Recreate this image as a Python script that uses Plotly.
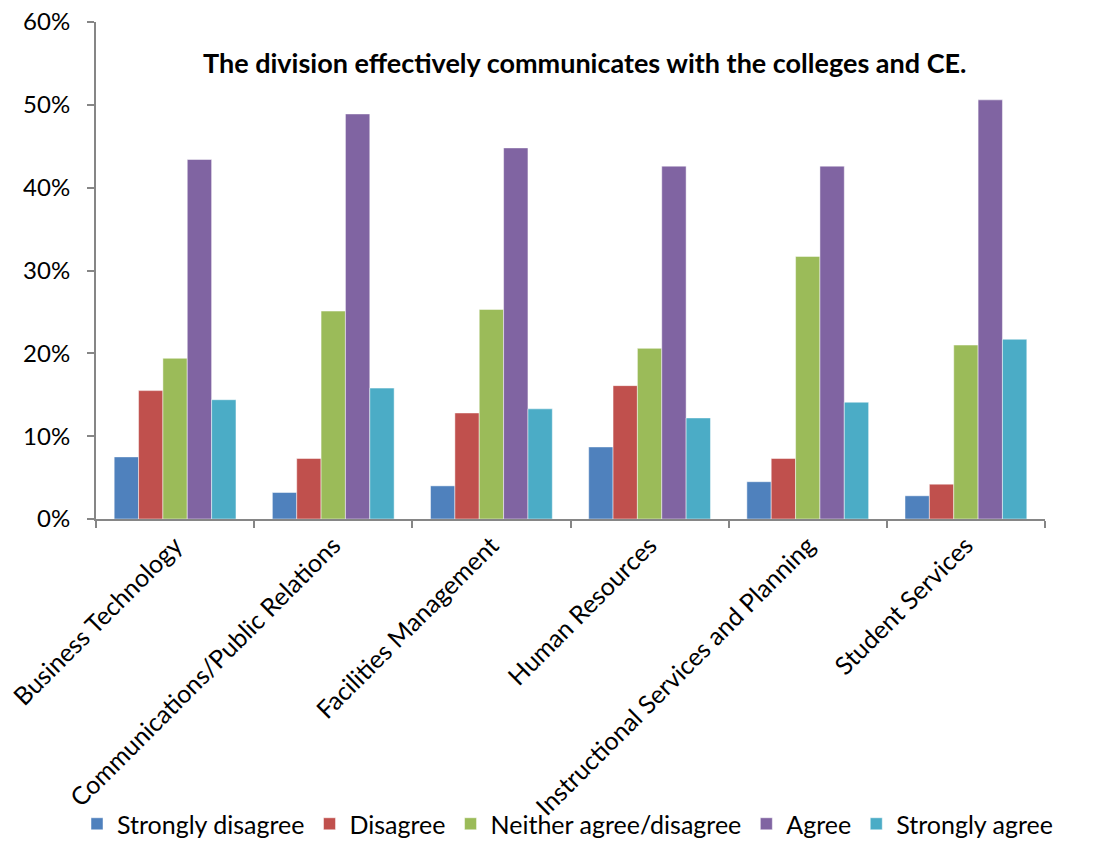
import plotly.graph_objects as go

categories = ["Business Technology", "Communications/Public Relations", "Facilities Management",
              "Human Resources", "Instructional Services and Planning", "Student Services"]
strongly_disagree = [0.075, 0.032, 0.040, 0.087, 0.045, 0.028]
disagree = [0.155, 0.073, 0.128, 0.161, 0.073, 0.042]
neither = [0.194, 0.251, 0.253, 0.206, 0.317, 0.210]
agree = [0.434, 0.489, 0.448, 0.426, 0.426, 0.506]
strongly_agree = [0.144, 0.158, 0.133, 0.122, 0.141, 0.217]

series_names = ["Strongly disagree", "Disagree", "Neither agree/disagree", "Agree", "Strongly agree"]
series_values = [strongly_disagree, disagree, neither, agree, strongly_agree]
colors = ["#4F81BD", "#C0504D", "#9BBB59", "#8064A2", "#4BACC6"]

FONT = "Lato"
fig = go.Figure()
for name, vals, col in zip(series_names, series_values, colors):
    fig.add_trace(go.Bar(x=categories, y=vals, name=name,
                         marker=dict(color=col, line=dict(color="rgba(255,255,255,0.6)", width=0.8))))

fig.update_layout(
    width=1099, height=842,
    margin=dict(l=96, r=54, t=22, b=323, autoexpand=False),
    paper_bgcolor="white", plot_bgcolor="white",
    barmode="group", bargap=0.23, bargroupgap=0,
    font=dict(family=FONT, size=24, color="black"),
    showlegend=True,
    legend=dict(orientation="h", x=-0.02, xanchor="left", y=-0.66, yanchor="bottom",
                bgcolor="rgba(0,0,0,0)",
                font=dict(family=FONT, size=25), itemwidth=30, tracegroupgap=0),
    annotations=[dict(text="<b>The division effectively communicates with the colleges and CE.</b>",
                      x=0.515, y=0.955, xref="paper", yref="paper", showarrow=False,
                      font=dict(family=FONT, size=27, color="black"))],
)
fig.update_yaxes(range=[0, 0.6], dtick=0.1, tickformat=".0%", showgrid=False, automargin=False,
                 showline=True, linecolor="#868686", linewidth=2,
                 ticks="outside", ticklen=7, tickcolor="#868686", tickwidth=2,
                 ticklabelstandoff=12,
                 tickfont=dict(family=FONT, size=24), zeroline=False)
fig.update_xaxes(showline=True, linecolor="#868686", linewidth=2, tickangle=-45, automargin=False,
                 ticks="outside", ticklen=7, tickcolor="#868686", tickwidth=2,
                 tickson="boundaries", tickfont=dict(family=FONT, size=25), showgrid=False)

fig.write_html("out.html")
